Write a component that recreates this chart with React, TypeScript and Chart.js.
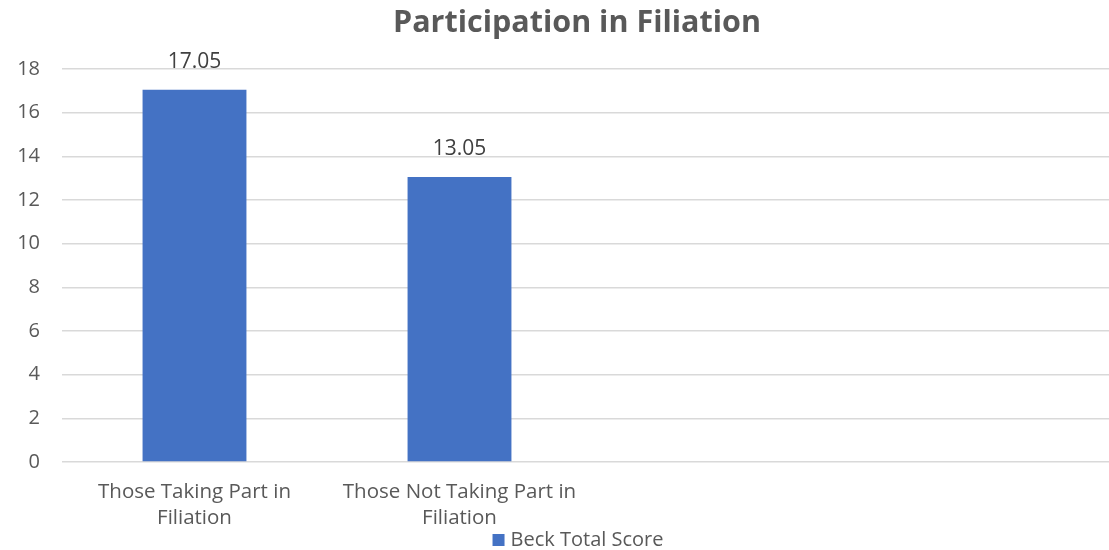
import React, { useEffect, useRef } from "react";
import { Chart, registerables } from "chart.js";

Chart.register(...registerables);

const categories: (string | string[])[] = [
  ["Those Taking Part in", "Filiation"],
  ["Those Not Taking Part in", "Filiation"],
  "",
  "",
];
const beckTotalScore: (number | null)[] = [17.05, 13.05, null, null];
const valueLabels: string[] = ["17.05", "13.05", "", ""];
const seriesName = "Beck Total Score";
const chartTitle = "Participation in Filiation";

const FONT = "'Open Sans', 'Noto Sans', sans-serif";
const BAR_COLOR = "#4472C4";

const valueLabelPlugin = {
  id: "valueLabels",
  afterDatasetsDraw(chart: any) {
    const ctx = chart.ctx;
    const meta = chart.getDatasetMeta(0);
    ctx.save();
    ctx.font = `21px ${FONT}`;
    ctx.fillStyle = "#404040";
    ctx.textAlign = "center";
    ctx.textBaseline = "middle";
    meta.data.forEach((bar: any, i: number) => {
      const v = beckTotalScore[i];
      if (v == null) return;
      ctx.fillText(valueLabels[i], bar.x, bar.y - 28);
    });
    ctx.restore();
  },
};

const titleAndLegendPlugin = {
  id: "titleAndLegend",
  afterDraw(chart: any) {
    const ctx = chart.ctx;
    ctx.save();
    // title
    ctx.font = `bold 30.5px ${FONT}`;
    ctx.fillStyle = "#595959";
    ctx.textAlign = "center";
    ctx.textBaseline = "middle";
    ctx.fillText(chartTitle, 577, 23);
    // legend
    ctx.font = `20px ${FONT}`;
    const label = chart.data.datasets[0].label as string;
    const tw = ctx.measureText(label).width;
    const box = 12;
    const gap = 6;
    const total = box + gap + tw;
    const cx = 578;
    const cy = 540;
    const x0 = cx - total / 2;
    ctx.fillStyle = BAR_COLOR;
    ctx.fillRect(x0, cy - box / 2, box, box);
    ctx.fillStyle = "#595959";
    ctx.textAlign = "left";
    ctx.fillText(label, x0 + box + gap, cy);
    ctx.restore();
  },
};

export default function App() {
  const ref = useRef<HTMLCanvasElement>(null);
  useEffect(() => {
    if (!ref.current) return;
    const chart = new Chart(ref.current, {
      type: "bar",
      data: {
        labels: categories,
        datasets: [
          {
            label: seriesName,
            data: beckTotalScore,
            backgroundColor: BAR_COLOR,
            categoryPercentage: 0.8,
            barPercentage: 0.49,
          },
        ],
      },
      options: {
        animation: false,
        responsive: false,
        maintainAspectRatio: false,
        layout: { padding: { left: 8, right: 30, top: 69, bottom: 0 } },
        plugins: {
          title: { display: false },
          legend: { display: false },
          tooltip: { enabled: false },
        },
        scales: {
          x: {
            grid: { display: false },
            border: { display: false },
            ticks: {
              color: "#595959",
              font: { family: FONT, size: 20.5, lineHeight: 1.27 },
              maxRotation: 0,
              autoSkip: false,
              padding: 9,
            },
            afterFit: (s: any) => {
              s.height = 88;
            },
          },
          y: {
            min: 0,
            max: 18,
            ticks: {
              stepSize: 2,
              color: "#595959",
              font: { family: FONT, size: 20 },
              padding: 22,
            },
            grid: { color: "#d9d9d9", lineWidth: 1.5, drawTicks: false },
            border: { display: false },
            afterFit: (s: any) => {
              s.width = 54;
            },
          },
        },
      },
      plugins: [valueLabelPlugin, titleAndLegendPlugin],
    });
    return () => chart.destroy();
  }, []);
  return (
    <div
      style={{
        position: "fixed",
        left: 0,
        top: 0,
        width: 1109,
        height: 550,
        overflow: "hidden",
        background: "#fff",
      }}
    >
      <canvas ref={ref} width={1152} height={550} style={{ display: "block" }} />
    </div>
  );
}
